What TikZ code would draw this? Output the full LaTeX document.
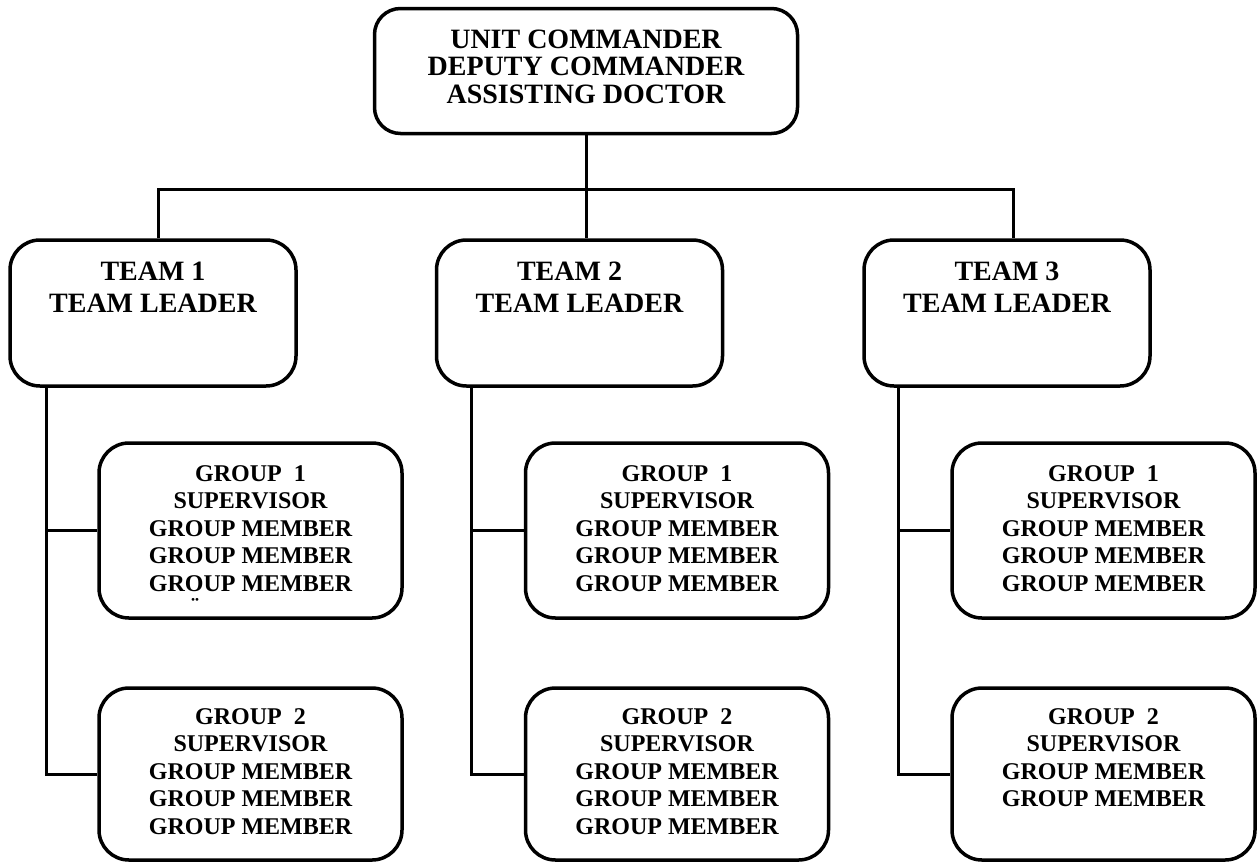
\documentclass[tikz,border=0pt]{standalone}
\usepackage{fontspec}
\setmainfont{Liberation Serif}
\usetikzlibrary{positioning}
\begin{document}
\begin{tikzpicture}[x=1pt, y=-1pt,
  box/.style={draw, line width=3.5pt, rounded corners=30pt, inner sep=0pt},
  link/.style={line width=3pt},
  bigtext/.style={font=\fontsize{28pt}{27.5pt}\selectfont\bfseries, align=center, inner sep=0pt},
  teamtext/.style={font=\fontsize{28pt}{32pt}\selectfont\bfseries, align=center, inner sep=0pt},
  grouptext/.style={font=\fontsize{24pt}{27.5pt}\selectfont\bfseries, align=center, inner sep=0pt}]
\useasboundingbox (0,0) rectangle (1260,865);
\node[box, rounded corners=26pt, minimum width=423pt, minimum height=125pt] (cmd) at (586,71) {};
\node[bigtext, below=23pt of cmd.north] (cmdlbl) {UNIT COMMANDER\\DEPUTY COMMANDER\\ASSISTING DOCTOR};
\node[box, minimum width=286pt, minimum height=146pt] (team1) at (153,313) {};
\node[box, minimum width=286pt, minimum height=146pt] (team2) at (579.5,313) {};
\node[box, minimum width=286pt, minimum height=146pt] (team3) at (1007,313) {};
\node[teamtext, below=24pt of team1.north] (team1lbl) {TEAM 1\\TEAM LEADER};
\node[teamtext, below=24pt of team2.north] (team2lbl) {TEAM 2\hspace*{20pt}\\TEAM LEADER};
\node[teamtext, below=24pt of team3.north] (team3lbl) {TEAM 3\\TEAM LEADER};
\node[box, minimum width=303pt, minimum height=175pt] (g11) at (250.5,530.5) {};
\node[box, minimum width=303pt, minimum height=172pt] (g12) at (250.5,774) {};
\node[box, minimum width=303pt, minimum height=175pt] (g21) at (677,530.5) {};
\node[box, minimum width=303pt, minimum height=172pt] (g22) at (677,774) {};
\node[box, minimum width=303pt, minimum height=175pt] (g31) at (1103.5,530.5) {};
\node[box, minimum width=303pt, minimum height=172pt] (g32) at (1103.5,774) {};
\node[grouptext, below=24pt of g11.north] (g11lbl) {GROUP\ \ 1\\SUPERVISOR\\GROUP MEMBER\\GROUP MEMBER\\GROUP MEMBER};
\node[grouptext, below=22pt of g12.north] (g12lbl) {GROUP\ \ 2\\SUPERVISOR\\GROUP MEMBER\\GROUP MEMBER\\GROUP MEMBER};
\node[grouptext, below=24pt of g21.north] (g21lbl) {GROUP\ \ 1\\SUPERVISOR\\GROUP MEMBER\\GROUP MEMBER\\GROUP MEMBER};
\node[grouptext, below=22pt of g22.north] (g22lbl) {GROUP\ \ 2\\SUPERVISOR\\GROUP MEMBER\\GROUP MEMBER\\GROUP MEMBER};
\node[grouptext, below=24pt of g31.north] (g31lbl) {GROUP\ \ 1\\SUPERVISOR\\GROUP MEMBER\\GROUP MEMBER\\GROUP MEMBER};
\node[grouptext, below=22pt of g32.north] (g32lbl) {GROUP\ \ 2\\SUPERVISOR\\GROUP MEMBER\\GROUP MEMBER};
\node[grouptext, anchor=north] (dots) at (195,598) {¨};
\draw[link] (cmd.south) -- ++(0,54) coordinate (hub);
\draw[link] ([xshift=5pt]team1.north) |- (hub) -| ([xshift=6pt]team3.north);
\draw[link] (hub) -| ([xshift=6.5pt]team2.north);
\draw[link] ([xshift=38pt]team1.south west) |- (g11.west);
\draw[link] ([xshift=38pt]team1.south west) |- (g12.west);
\draw[link] ([xshift=36.5pt]team2.south west) |- (g21.west);
\draw[link] ([xshift=36.5pt]team2.south west) |- (g22.west);
\draw[link] ([xshift=36pt]team3.south west) |- (g31.west);
\draw[link] ([xshift=36pt]team3.south west) |- (g32.west);
\end{tikzpicture}
\end{document}
